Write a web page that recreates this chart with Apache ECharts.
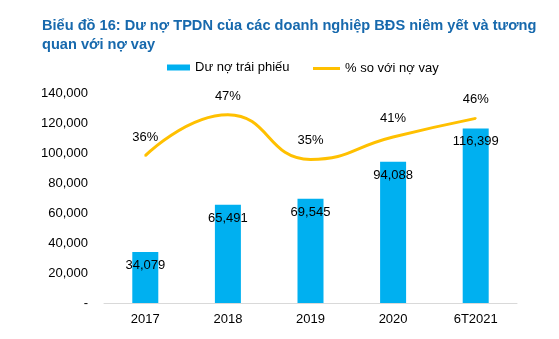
<!DOCTYPE html>
<html>
<head>
<meta charset="utf-8">
<script src="https://cdn.jsdelivr.net/npm/echarts@6/dist/echarts.min.js"></script>
<style>
  html, body { margin: 0; padding: 0; background: #ffffff; }
  #chart { width: 559px; height: 339px; }
</style>
</head>
<body>
<div id="chart"></div>
<script>
// Corporate bond debt of listed real-estate firms and its ratio to total borrowings
const categories = ['2017', '2018', '2019', '2020', '6T2021'];
const bondDebt = [34079, 65491, 69545, 94088, 116399];
const ratioToLoans = [36, 47, 35, 41, 46];
const yTicks = [0, 20000, 40000, 60000, 80000, 100000, 120000, 140000];

const fmtThousands = v => String(v).replace(/\B(?=(\d{3})+(?!\d))/g, ',');
const FONT = 'Liberation Sans, Arial, sans-serif';
const legendText = { fontFamily: FONT, fontSize: 13, color: '#000' };

const chart = echarts.init(document.getElementById('chart'));
chart.setOption({
  animation: false,
  backgroundColor: '#ffffff',
  title: {
    text: 'Biểu đồ 16: Dư nợ TPDN của các doanh nghiệp BĐS niêm yết và tương\nquan với nợ vay',
    left: 37,
    top: 11,
    textStyle: {
      fontFamily: FONT,
      fontSize: 14.6,
      fontWeight: 'bold',
      color: '#1769ad',
      lineHeight: 19
    }
  },
  legend: [
    {
      top: 56,
      left: 162,
      itemWidth: 23,
      itemHeight: 6,
      itemGap: 0,
      textStyle: legendText,
      data: [{ name: 'Dư nợ trái phiếu', icon: 'rect' }]
    },
    {
      top: 57,
      left: 308,
      itemWidth: 27,
      itemHeight: 3,
      itemGap: 0,
      textStyle: legendText,
      data: [{ name: '% so với nợ vay', icon: 'rect', itemStyle: { color: '#ffc000', opacity: 1 } }]
    }
  ],
  grid: { left: 104, right: 42, top: 93, bottom: 36 },
  xAxis: {
    type: 'category',
    data: categories,
    axisTick: { show: false },
    axisLine: { lineStyle: { color: '#d9d9d9', width: 1 } },
    axisLabel: { fontFamily: FONT, fontSize: 13, color: '#000', margin: 10 }
  },
  yAxis: [
    {
      type: 'value',
      min: yTicks[0],
      max: yTicks[yTicks.length - 1],
      interval: yTicks[1] - yTicks[0],
      splitLine: { show: false },
      axisLine: { show: false },
      axisTick: { show: false },
      axisLabel: {
        fontFamily: FONT, fontSize: 13, color: '#000', margin: 16,
        formatter: v => (v === 0 ? '-' : fmtThousands(v))
      }
    },
    {
      type: 'value',
      min: -3.5,
      max: 52.8,
      show: false,
      splitLine: { show: false }
    }
  ],
  series: [
    {
      name: 'Dư nợ trái phiếu',
      type: 'bar',
      data: bondDebt,
      barWidth: 26,
      itemStyle: { color: '#00b0f0' },
      label: {
        show: true,
        position: 'insideTop',
        distance: 7,
        fontFamily: FONT,
        fontSize: 13,
        color: '#000',
        formatter: p => fmtThousands(p.value)
      }
    },
    {
      name: '% so với nợ vay',
      type: 'line',
      yAxisIndex: 1,
      data: ratioToLoans,
      smooth: 0.5,
      symbol: 'circle',
      symbolSize: 2,
      showSymbol: true,
      lineStyle: { color: '#ffc000', width: 3 },
      itemStyle: { color: '#ffc000', borderWidth: 0 },
      label: {
        show: true,
        position: 'top',
        distance: 11,
        fontFamily: FONT,
        fontSize: 13,
        color: '#000',
        formatter: '{c}%'
      }
    }
  ]
});
</script>
</body>
</html>
